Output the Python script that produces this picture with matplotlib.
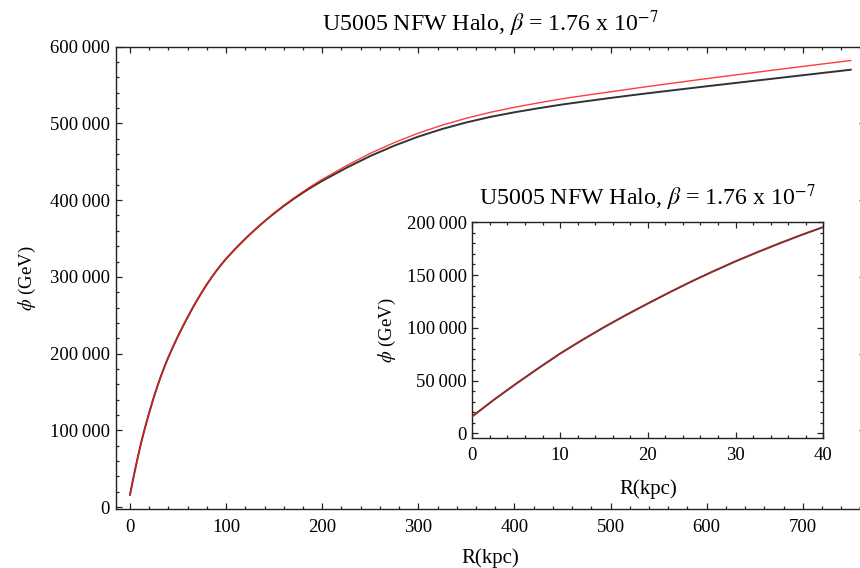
import matplotlib
matplotlib.use("Agg")
import matplotlib.pyplot as plt
from matplotlib.ticker import MultipleLocator, FuncFormatter

# Data
R_kpc = [0, 2.5, 5, 7.5, 10, 12.5, 15, 17.5, 20, 22.5, 25, 27.5, 30, 32.5, 35,
         37.5, 40, 45, 50, 55, 60, 65, 70, 75, 80, 85, 90, 95, 100, 110, 120,
         130, 140, 150, 160, 170, 180, 190, 200, 225, 250, 275, 300, 325, 350,
         375, 400, 425, 450, 475, 500, 525, 550, 575, 600, 650, 700, 750]
phi_black = [16000, 32000, 47000, 61500, 75500, 88300, 100500, 112000, 123000,
             133700, 144000, 153700, 163000, 171700, 180000, 188000, 195500,
             209600, 222900, 235500, 247500, 259100, 270100, 280500, 290300,
             299500, 308100, 316100, 323600, 337100, 349700, 361500, 372500,
             382800, 392400, 401400, 409800, 417700, 425100, 442000, 457500,
             471000, 482800, 492800, 501300, 508500, 514500, 519800, 524700,
             529000, 533200, 537200, 541000, 544700, 548400, 555600, 562800,
             570000]
phi_red = [16000, 32000, 47000, 61500, 75500, 88300, 100500, 112000, 123000,
           133700, 144000, 153700, 163000, 171700, 180000, 188000, 195500,
           209600, 222900, 235500, 247500, 259100, 270100, 280500, 290300,
           299500, 308100, 316100, 323600, 337100, 349700, 361500, 372500,
           383300, 393100, 402300, 411000, 419300, 427100, 444800, 461000,
           475000, 487300, 497800, 506800, 514500, 521000, 526800, 532200,
           536800, 541200, 545700, 550000, 554200, 558400, 566400, 574300,
           582000]

title = r"U5005 NFW Halo, $\beta$ = 1.76 x 10$^{-7}$"
xlabel = "R(kpc)"
ylabel = r"$\phi$ (GeV)"

plt.rcParams['font.family'] = ['Liberation Serif', 'DejaVu Serif']
plt.rcParams['mathtext.fontset'] = 'stix'

W, H = 860, 568
fig = plt.figure(figsize=(W / 100, H / 100), dpi=100)


def frac(l, r, t, b):
    return [l / W, 1 - b / H, (r - l) / W, (b - t) / H]


def fmt(v, pos):
    s = f"{v:,.0f}"
    return s.replace(",", "\u2009")


def style(ax, xmaj, xmin, ymaj, ymin, xpad, ypad):
    ax.xaxis.set_major_locator(MultipleLocator(xmaj))
    ax.xaxis.set_minor_locator(MultipleLocator(xmin))
    ax.yaxis.set_major_locator(MultipleLocator(ymaj))
    ax.yaxis.set_minor_locator(MultipleLocator(ymin))
    ax.yaxis.set_major_formatter(FuncFormatter(fmt))
    ax.tick_params(which='both', direction='in', top=True, right=True,
                   colors='#222222', labelcolor='black', labelsize=13.5, width=0.9)
    ax.tick_params(which='major', length=4.0)
    ax.tick_params(which='minor', length=2.2)
    ax.tick_params(axis='x', which='major', pad=xpad)
    ax.tick_params(axis='y', which='major', pad=ypad)
    for s in ax.spines.values():
        s.set_linewidth(1.0)
        s.set_color('#222222')


# Main axes
ax = fig.add_axes(frac(115.6, 865.2, 46.7, 509))
ax.plot(R_kpc, phi_black, color='#333333', lw=1.4, zorder=3)
ax.plot(R_kpc, phi_red, color='#ff1a1a', lw=1.0, alpha=0.85, zorder=4)
ax.set_xlim(-15, 765)
ax.set_ylim(-2600, 600000)
style(ax, 100, 20, 100000, 20000, 7, 4)
ax.set_title(title, fontsize=17.2, pad=11)
ax.set_xlabel(xlabel, fontsize=15, labelpad=9)
ax.set_ylabel(ylabel, fontsize=13.5, labelpad=9)

# Inset axes
axi = fig.add_axes(frac(472.3, 823.3, 222.3, 437.7))
axi.plot(R_kpc, phi_black, color='#333333', lw=1.4, zorder=3)
axi.plot(R_kpc, phi_red, color='#ff1a1a', lw=1.0, alpha=0.6, zorder=4)
axi.set_xlim(0, 40)
axi.set_ylim(-4200, 200000)
style(axi, 10, 2, 50000, 10000, 6.5, 4)
axi.set_title(title, fontsize=17.2, pad=12)
axi.set_xlabel(xlabel, fontsize=15, labelpad=11)
axi.set_ylabel(ylabel, fontsize=13.5, labelpad=6)

fig.savefig("out.png", dpi=100)
